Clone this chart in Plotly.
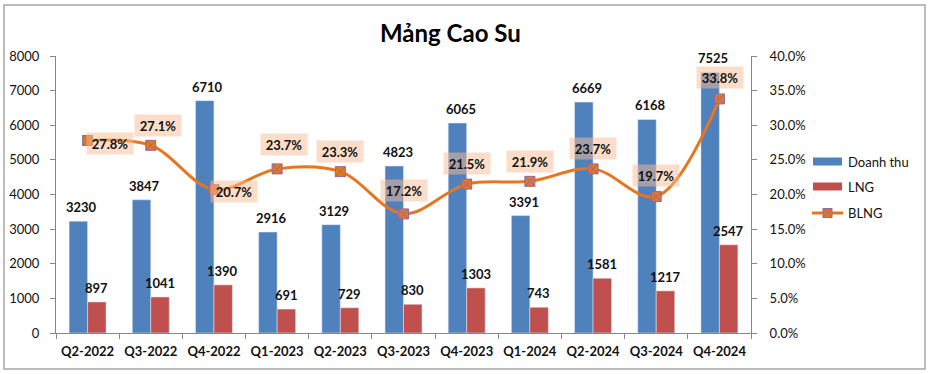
import plotly.graph_objects as go

categories = ["Q2-2022", "Q3-2022", "Q4-2022", "Q1-2023", "Q2-2023", "Q3-2023",
              "Q4-2023", "Q1-2024", "Q2-2024", "Q3-2024", "Q4-2024"]
doanh_thu = [3230, 3847, 6710, 2916, 3129, 4823, 6065, 3391, 6669, 6168, 7525]
lng = [897, 1041, 1390, 691, 729, 830, 1303, 743, 1581, 1217, 2547]
blng = [0.278, 0.271, 0.207, 0.237, 0.233, 0.172, 0.215, 0.219, 0.237, 0.197, 0.338]

BLUE = "#4F81BD"
RED = "#C0504D"
ORANGE = "#E8761F"
FONT = "Lato"

# plot area in pixels
L, R, T, B = 56, 751, 56, 333
W, H = 931, 374
def px(x):
    return (x - L) / (R - L)
def py(y):
    return (B - y) / (B - T)

fig = go.Figure()
fig.add_trace(go.Bar(x=categories, y=doanh_thu, name="Doanh thu", marker_color=BLUE,
                     showlegend=False))
fig.add_trace(go.Bar(x=categories, y=lng, name="LNG", marker_color=RED, showlegend=False))
fig.add_trace(go.Scatter(x=categories, y=blng, name="BLNG", yaxis="y2", mode="lines+markers",
                         line=dict(color=ORANGE, width=3, shape="spline", smoothing=1.0),
                         marker=dict(symbol="square-x", size=10, color=ORANGE,
                                     line=dict(color="#8E6A9E", width=1)),
                         showlegend=False))

annotations = []
# bar value labels
for c, v in zip(categories, doanh_thu):
    annotations.append(dict(x=c, y=v, xref="x", yref="y", text=f"<b>{v}</b>", showarrow=False,
                            xshift=-6, yshift=14, font=dict(family=FONT, size=13, color="#111")))
for c, v in zip(categories, lng):
    annotations.append(dict(x=c, y=v, xref="x", yref="y", text=f"<b>{v}</b>", showarrow=False,
                            xshift=9, yshift=14, font=dict(family=FONT, size=13, color="#111")))
# BLNG labels offsets (px)
offsets = [(22, -3), (7, 20), (20, -2), (7, 24), (0, 20), (0, 23), (0, 21), (0, 20), (0, 20), (0, 21), (1, 21)]
for c, v, (dx, dy) in zip(categories, blng, offsets):
    annotations.append(dict(x=c, y=v, xref="x", yref="y2", text=f"<b>{v*100:.1f}%</b>", showarrow=False,
                            xshift=dx, yshift=dy, bgcolor="rgba(248,188,148,0.5)",
                            width=44, height=19,
                            font=dict(family=FONT, size=13, color="#111")))
# title
annotations.append(dict(x=px(450), y=py(32), xref="paper", yref="paper", text="<b>Mảng Cao Su</b>",
                        showarrow=False, font=dict(family=FONT, size=24, color="#000"),
                        xanchor="center", yanchor="middle"))
# legend texts
for label, yy in [("Doanh thu", 162), ("LNG", 187), ("BLNG", 213)]:
    annotations.append(dict(x=px(846), y=py(yy), xref="paper", yref="paper", text=label,
                            showarrow=False, xanchor="left", yanchor="middle",
                            font=dict(family=FONT, size=13, color="#111")))

shapes = [
    # outer border
    dict(type="rect", xref="paper", yref="paper", x0=px(4), x1=px(925), y0=py(369), y1=py(5),
         line=dict(color="#A6A6A6", width=1.5), layer="below"),
    # legend symbols
    dict(type="rect", xref="paper", yref="paper", x0=px(813), x1=px(842), y0=py(165.5), y1=py(157.5),
         fillcolor=BLUE, line=dict(width=0)),
    dict(type="rect", xref="paper", yref="paper", x0=px(813), x1=px(842), y0=py(190.5), y1=py(182.5),
         fillcolor=RED, line=dict(width=0)),
    dict(type="line", xref="paper", yref="paper", x0=px(812), x1=px(843), y0=py(213), y1=py(213),
         line=dict(color=ORANGE, width=3)),
]
mx, my, s = 827.5, 213, 4.5
shapes.append(dict(type="rect", xref="paper", yref="paper", x0=px(mx - s), x1=px(mx + s),
                   y0=py(my + s), y1=py(my - s), fillcolor=ORANGE,
                   line=dict(color="#8E6A9E", width=1)))
shapes.append(dict(type="path", xref="paper", yref="paper",
                   path=f"M {px(mx-s)} {py(my-s)} L {px(mx+s)} {py(my+s)} M {px(mx-s)} {py(my+s)} L {px(mx+s)} {py(my-s)}",
                   line=dict(color="#8E6A9E", width=1)))

axis_line = "#868686"
fig.update_layout(
    width=W, height=H,
    margin=dict(l=L, r=W - R, t=T, b=H - B, pad=0, autoexpand=False),
    paper_bgcolor="white", plot_bgcolor="white",
    barmode="group", bargap=0.415, bargroupgap=0,
    font=dict(family=FONT, size=13, color="#111"),
    xaxis=dict(range=[-0.5, len(categories) - 0.5], showgrid=False, showline=True,
               linecolor=axis_line, linewidth=1,
               ticks="outside", tickson="boundaries", ticklen=5, tickcolor=axis_line,
               tickangle=0, automargin=False,
               tickfont=dict(family=FONT, size=13, color="#111", weight="bold"),
               ticklabelstandoff=6),
    yaxis=dict(range=[0, 8000], dtick=1000, showgrid=False, showline=True, linecolor=axis_line,
               ticks="outside", ticklen=5, tickcolor=axis_line, zeroline=False, automargin=False,
               tickfont=dict(family=FONT, size=13, color="#111"), ticklabelstandoff=8),
    yaxis2=dict(range=[0, 0.4], dtick=0.05, tickformat=".1%", overlaying="y", side="right",
                showgrid=False, showline=True, linecolor=axis_line, ticks="outside", ticklen=5,
                tickcolor=axis_line, zeroline=False, automargin=False,
                tickfont=dict(family=FONT, size=13, color="#111"), ticklabelstandoff=10),
    annotations=annotations,
    shapes=shapes,
)

fig.write_html("out.html", config={"displayModeBar": False},
               post_script="document.body.style.margin='0';document.body.style.overflow='hidden';")
